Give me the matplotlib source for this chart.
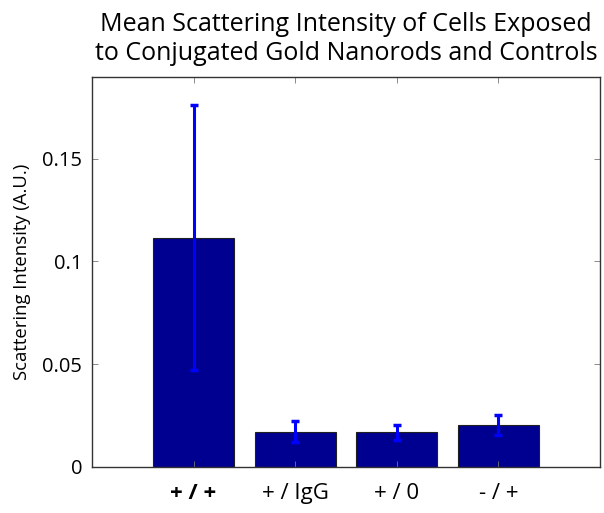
import matplotlib
matplotlib.use("Agg")
import matplotlib.pyplot as plt

plt.rcParams['font.family'] = ['Open Sans', 'DejaVu Sans']

labels = ['+ / +', '+ / IgG', '+ / 0', '- / +']
means = [0.1115, 0.0170, 0.0167, 0.0203]
errors = [0.0645, 0.0052, 0.0035, 0.0047]

x_pos = [i + 1 for i in range(len(labels))]

fig = plt.figure(figsize=(6.04, 5.13), dpi=100)
ax = fig.add_axes([92 / 604, 1 - 466.7 / 513, 508 / 604, 390.2 / 513])

ax.bar(x_pos, means, width=0.8, color='#000090', edgecolor='#202020', linewidth=0.8)
ax.errorbar(x_pos, means, yerr=errors, fmt='none', ecolor='#0000FF',
            elinewidth=2.2, capsize=3, capthick=2.5)

ax.set_xlim(0, 5)
ax.set_ylim(0, 0.19)
ax.set_yticks([0, 0.05, 0.1, 0.15])
ax.set_yticklabels(['0', '0.05', '0.1', '0.15'])
ax.set_xticks(x_pos)
ax.set_xticklabels(labels)

ax.tick_params(axis='both', direction='in', length=4, width=0.6,
               top=True, right=True, color='#777777')
ax.tick_params(axis='y', labelsize=14.5, pad=7)
ax.tick_params(axis='x', labelsize=16, pad=12)
ax.get_xticklabels()[0].set_fontweight('bold')

for s in ax.spines.values():
    s.set_linewidth(1.0)
    s.set_color('#333333')

ax.set_ylabel('Scattering Intensity (A.U.)', fontsize=13.3, labelpad=8)
ax.set_title('Mean Scattering Intensity of Cells Exposed\nto Conjugated Gold Nanorods and Controls',
             fontsize=18, pad=12, linespacing=1.2)

fig.savefig('out.png', dpi=100)
